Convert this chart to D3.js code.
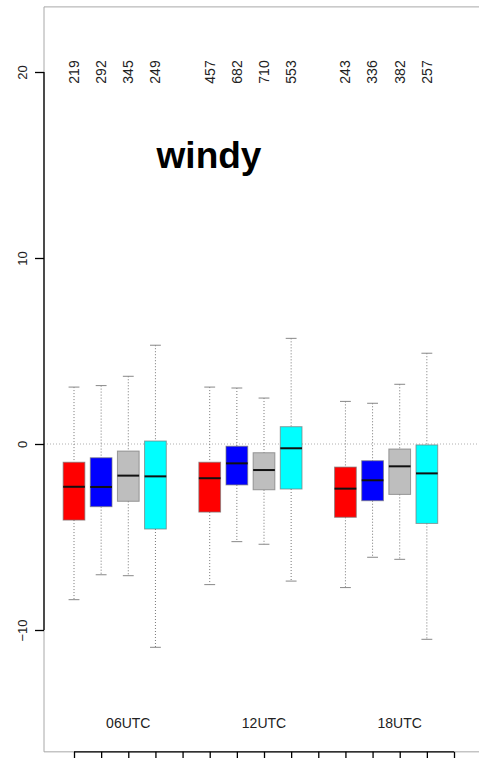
<!DOCTYPE html>
<html><head><meta charset="utf-8">
<script src="https://cdn.jsdelivr.net/npm/d3@7"></script>
<style>html,body{margin:0;padding:0;background:#fff;}svg{display:block;}</style>
</head><body>
<svg id="c" width="479" height="758"></svg>
<script>
// ---- data ----
const groups = ["06UTC", "12UTC", "18UTC"];
const seriesColors = ["#FF0000", "#0000FF", "#BEBEBE", "#00FFFF"];
const positions = [1,2,3,4, 6,7,8,9, 11,12,13,14];
const counts = [219,292,345,249, 457,682,710,553, 243,336,382,257];
const whiskerLow  = [-8.37,-7.03,-7.08,-10.93, -7.56,-5.25,-5.39,-7.37, -7.72,-6.09,-6.20,-10.50];
const q1          = [-4.09,-3.37,-3.08,-4.57, -3.66,-2.20,-2.46,-2.42, -3.94,-3.05,-2.71,-4.27];
const medians     = [-2.30,-2.31,-1.70,-1.74, -1.84,-1.04,-1.40,-0.23, -2.40,-1.95,-1.20,-1.58];
const q3          = [-0.98,-0.74,-0.38,0.16, -0.98,-0.12,-0.47,0.93, -1.24,-0.90,-0.27,-0.05];
const whiskerHigh = [3.06,3.14,3.64,5.31, 3.06,3.01,2.47,5.68, 2.29,2.19,3.21,4.88];
const groupLabelPos = [3, 8, 13];
const yTicks = [-10, 0, 10, 20];
const xTicks = d3.range(1, 16);
const title = "windy";

// ---- scales ----
const svg = d3.select("#c");
const x = d3.scaleLinear().domain([1, 15]).range([74, 454]);
const y = d3.scaleLinear().domain([-10, 20]).range([630, 72]);
const frameLeft = 44, frameRight = 485;
const frameTop = y(23.5), frameBottom = y(-16.55);
const boxW = (x(2) - x(1)) * 0.8;
const capW = boxW * 0.5;

// frame (gray)
svg.append("path")
  .attr("d", `M${frameRight},${frameTop}H${frameLeft}V${frameBottom}H${frameRight}`)
  .attr("fill", "none").attr("stroke", "#a8a8a8").attr("stroke-width", 1);

// zero reference line
svg.append("line")
  .attr("x1", frameLeft).attr("x2", frameRight)
  .attr("y1", y(0)).attr("y2", y(0))
  .attr("stroke", "#b0b0b0").attr("stroke-dasharray", "1,2");

// y axis
const yAxis = d3.axisLeft(y).tickValues(yTicks).tickSize(9).tickFormat(d3.format("d"));
const gy = svg.append("g").attr("transform", `translate(${frameLeft},0)`).call(yAxis);
gy.select(".domain").attr("stroke", "#000").attr("stroke-width", 1.3).attr("d", `M0,${y(20)}V${y(-10)}`);
gy.selectAll(".tick line").attr("stroke", "#000").attr("stroke-width", 1.3);
gy.selectAll(".tick text")
  .attr("x", null).attr("dy", null)
  .attr("transform", "translate(-22,0) rotate(-90)")
  .attr("text-anchor", "middle").attr("dy", "0.35em")
  .style("font-family", "Liberation Sans, Arial, sans-serif").style("font-size", "13px").attr("fill", "#222");

// x axis (bottom)
const xAxis = d3.axisBottom(x).tickValues(xTicks).tickSize(10).tickFormat("");
const gx = svg.append("g").attr("transform", `translate(0,${frameBottom})`).call(xAxis);
gx.select(".domain").attr("stroke", "#000").attr("stroke-width", 1.3).attr("d", `M${x(1)},0H${x(15)}`);
gx.selectAll(".tick line").attr("stroke", "#000").attr("stroke-width", 1.3);

// boxes
const data = positions.map((p, i) => ({
  p, c: seriesColors[i % 4], lo: whiskerLow[i], q1: q1[i], med: medians[i], q3: q3[i], hi: whiskerHigh[i], n: counts[i]
}));
const g = svg.append("g");
const b = g.selectAll("g.box").data(data).join("g").attr("class", "box");
// whiskers
b.append("line").attr("x1", d => x(d.p)).attr("x2", d => x(d.p))
  .attr("y1", d => y(d.hi)).attr("y2", d => y(d.q3))
  .attr("stroke", "#777").attr("stroke-dasharray", "1,2");
b.append("line").attr("x1", d => x(d.p)).attr("x2", d => x(d.p))
  .attr("y1", d => y(d.q1)).attr("y2", d => y(d.lo))
  .attr("stroke", "#777").attr("stroke-dasharray", "1,2");
// caps
b.append("line").attr("x1", d => x(d.p) - capW / 2).attr("x2", d => x(d.p) + capW / 2)
  .attr("y1", d => y(d.hi)).attr("y2", d => y(d.hi)).attr("stroke", "#888");
b.append("line").attr("x1", d => x(d.p) - capW / 2).attr("x2", d => x(d.p) + capW / 2)
  .attr("y1", d => y(d.lo)).attr("y2", d => y(d.lo)).attr("stroke", "#888");
// box
b.append("rect")
  .attr("x", d => x(d.p) - boxW / 2).attr("width", boxW)
  .attr("y", d => y(d.q3)).attr("height", d => y(d.q1) - y(d.q3))
  .attr("fill", d => d.c).attr("stroke", "#777").attr("stroke-opacity", 0.7).attr("stroke-width", 1);
// median
b.append("line").attr("x1", d => x(d.p) - boxW / 2).attr("x2", d => x(d.p) + boxW / 2)
  .attr("y1", d => y(d.med)).attr("y2", d => y(d.med))
  .attr("stroke", "#111").attr("stroke-width", 2);

// counts
svg.append("g").selectAll("text").data(data).join("text")
  .attr("transform", d => `translate(${x(d.p)},${y(20)}) rotate(-90)`)
  .attr("text-anchor", "middle").attr("dy", "0.35em")
  .style("font-family", "Liberation Sans, Arial, sans-serif").style("font-size", "14px").attr("fill", "#222")
  .text(d => d.n);

// group labels
svg.append("g").selectAll("text").data(groups).join("text")
  .attr("x", (d, i) => x(groupLabelPos[i])).attr("y", y(-15))
  .attr("text-anchor", "middle").attr("dy", "0.35em")
  .style("font-family", "Liberation Sans, Arial, sans-serif").style("font-size", "14px").attr("fill", "#222")
  .text(d => d);

// title
svg.append("text")
  .attr("x", 209).attr("y", y(15)).attr("dy", "0.08em")
  .attr("text-anchor", "middle")
  .style("font-family", "Liberation Sans, Arial, sans-serif").style("font-size", "37px").style("font-weight", "bold")
  .attr("fill", "#000").text(title);
</script>
</body></html>
